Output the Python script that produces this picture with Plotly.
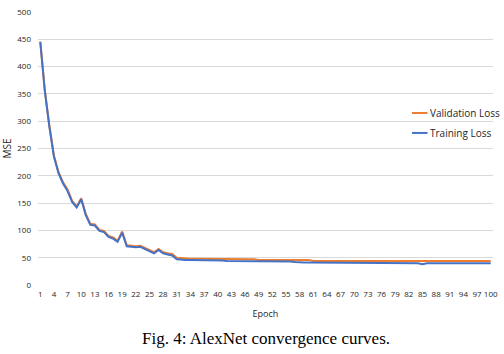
import plotly.graph_objects as go

epochs = list(range(1, 101))

training_loss = [
    445, 355, 290, 235, 205, 186, 172, 152, 142, 157,
    128, 110, 109, 99, 97, 88, 85, 79, 96, 71,
    70, 69, 70, 66, 61, 58, 64, 58, 56, 54,
    47, 46, 46, 46, 46, 45, 45, 45, 45, 45,
    45, 44, 44, 44, 44, 44, 44, 44, 43, 43,
    43, 43, 43, 43, 43, 43, 42, 41, 41, 41,
    41, 41, 41, 41, 41, 41, 41, 41, 41, 41,
    41, 41, 41, 41, 41, 41, 41, 41, 41, 41,
    41, 41, 41, 40, 38, 40, 40, 40, 40, 40,
    40, 40, 40, 40, 40, 40, 40, 40, 40, 40,
]

validation_loss = [
    446, 357, 292, 237, 207, 188, 175, 154, 144, 159,
    130, 112, 111, 101, 99, 90, 87, 81, 98, 73,
    72, 71, 72, 68, 63, 60, 66, 60, 58, 57,
    50, 49, 49, 48, 48, 48, 48, 47, 48, 47,
    47, 47, 47, 47, 47, 47, 47, 47, 46, 46,
    46, 46, 46, 46, 46, 46, 46, 46, 46, 46,
    44, 44, 44, 44, 44, 44, 44, 44, 44, 44,
    44, 44, 44, 44, 44, 44, 44, 44, 44, 44,
    44, 44, 44, 43, 43, 43, 44, 44, 44, 44,
    44, 44, 44, 44, 44, 44, 44, 44, 44, 44,
]

series_names = ["Validation Loss", "Training Loss"]
series_colors = ["#ED7D31", "#4472C4"]

x_ticks = list(range(1, 101, 3))
y_ticks = [0, 50, 100, 150, 200, 250, 300, 350, 400, 450, 500]

fig = go.Figure()
for name, vals, col in zip(series_names, [validation_loss, training_loss], series_colors):
    fig.add_trace(go.Scatter(x=epochs, y=vals, mode="lines", name=name,
                             line=dict(color=col, width=2)))

tick_font = dict(family="Open Sans", size=8, color="#262626")

# legend drawn as line samples + labels at the right side of the plot
legend_shapes = []
legend_annots = []
legend_y = [0.630, 0.557]
for name, col, ly in zip(series_names, series_colors, legend_y):
    legend_shapes.append(dict(type="line", xref="paper", yref="paper",
                              x0=0.822, x1=0.856, y0=ly, y1=ly,
                              line=dict(color=col, width=2)))
    legend_annots.append(dict(text=name, xref="paper", yref="paper", x=0.857, y=ly,
                              xanchor="left", yanchor="middle", showarrow=False,
                              font=dict(family="Open Sans", size=10, color="#262626")))

fig.update_layout(
    width=504, height=354,
    margin=dict(l=38, r=11, t=12, b=69, autoexpand=False),
    paper_bgcolor="white", plot_bgcolor="white",
    showlegend=False,
    xaxis=dict(range=[0.5, 100.5], tickvals=x_ticks, ticktext=[str(t) for t in x_ticks],
               showgrid=False, zeroline=False, showline=False, ticks="",
               tickfont=tick_font, tickangle=0, ticklabelstandoff=3,
               title=dict(text="Epoch", font=dict(family="Open Sans", size=9, color="#262626"), standoff=12)),
    yaxis=dict(range=[0, 500], tickvals=y_ticks, showgrid=True, gridcolor="#D9D9D9", gridwidth=1,
               zeroline=False, showline=False, ticks="", tickfont=tick_font,
               ticklabelstandoff=6,
               title=dict(text="MSE", font=dict(family="Open Sans", size=10, color="#262626"), standoff=6)),
    shapes=legend_shapes,
    annotations=legend_annots + [dict(text="Fig. 4: AlexNet convergence curves.", xref="paper", yref="paper",
                      x=0.5, y=-0.155, xanchor="center", yanchor="top", showarrow=False,
                      font=dict(family="Liberation Serif", size=17, color="black"))],
)

fig.write_html("out.html")
